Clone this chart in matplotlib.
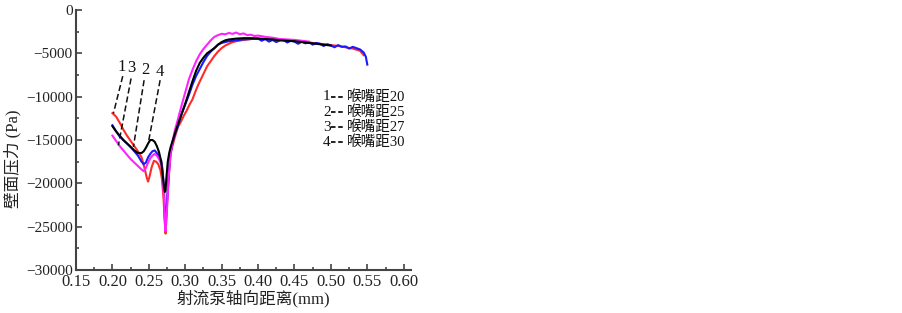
import matplotlib
matplotlib.use("Agg")
import matplotlib.pyplot as plt
from matplotlib.ticker import MultipleLocator

plt.rcParams['font.family'] = ['Liberation Serif', 'Noto Sans CJK SC']
plt.rcParams['axes.unicode_minus'] = True

# ---- data ----
x1 = [0.200,0.205,0.210,0.215,0.220,0.225,0.230,0.235,0.240,0.244,0.247,0.249,0.251,0.254,0.257,0.260,0.263,0.266,0.268,0.270,0.272,0.273,0.274,0.276,0.278,0.280,0.283,0.286,0.290,0.294,0.298,0.302,0.306,0.310,0.314,0.318,0.322,0.326,0.330,0.335,0.340,0.345,0.350,0.355,0.360,0.365,0.370,0.380,0.390,0.400,0.410,0.420,0.430,0.440,0.450,0.460,0.470,0.480,0.490,0.500,0.510,0.520,0.530,0.540,0.545]
y1 = [-11900,-12300,-13000,-13800,-14500,-15100,-15700,-16300,-17000,-18200,-19300,-19800,-19200,-18100,-17400,-17500,-17800,-18500,-19500,-21500,-24500,-25800,-24000,-21000,-18500,-16500,-15500,-14600,-13500,-12900,-12200,-11600,-10900,-10300,-9400,-8600,-7900,-7200,-6500,-5900,-5300,-4800,-4400,-4100,-3900,-3700,-3600,-3450,-3350,-3300,-3350,-3400,-3450,-3500,-3550,-3650,-3750,-3850,-3950,-4050,-4150,-4300,-4450,-4700,-5200]

x2 = [0.200,0.205,0.210,0.215,0.220,0.225,0.230,0.235,0.240,0.243,0.246,0.249,0.252,0.255,0.258,0.261,0.264,0.267,0.269,0.271,0.272,0.273,0.275,0.277,0.279,0.282,0.285,0.290,0.295,0.300,0.305,0.310,0.315,0.320,0.325,0.330,0.335,0.340,0.345,0.350,0.355,0.360,0.370,0.380,0.390,0.400,0.405,0.410,0.415,0.420,0.425,0.430,0.435,0.440,0.445,0.450,0.455,0.460,0.465,0.470,0.475,0.480,0.485,0.490,0.495,0.500,0.505,0.510,0.515,0.520,0.525,0.530,0.535,0.540,0.545,0.548,0.550]
y2 = [-13300,-14000,-14600,-15000,-15400,-15800,-16300,-16800,-17500,-17800,-17600,-17000,-16600,-16300,-16200,-16500,-16900,-17400,-18500,-21000,-24000,-25000,-22000,-19500,-17000,-15600,-14500,-13400,-12000,-10900,-9800,-8600,-7600,-6800,-6000,-5300,-4800,-4400,-4000,-3800,-3700,-3600,-3500,-3400,-3350,-3300,-3550,-3350,-3650,-3450,-3700,-3500,-3450,-3750,-3550,-3650,-3900,-3650,-3850,-3700,-4000,-3800,-3900,-4150,-3950,-4100,-4300,-4050,-4250,-4200,-4450,-4250,-4400,-4550,-4900,-5400,-6300]

x3 = [0.200,0.205,0.210,0.215,0.220,0.225,0.230,0.235,0.240,0.243,0.246,0.249,0.252,0.255,0.258,0.261,0.264,0.267,0.269,0.271,0.272,0.273,0.275,0.277,0.280,0.283,0.286,0.290,0.295,0.300,0.305,0.310,0.315,0.320,0.325,0.330,0.335,0.340,0.345,0.350,0.355,0.360,0.365,0.370,0.375,0.380,0.385,0.390,0.395,0.400,0.410,0.420,0.430,0.440,0.450,0.460,0.470]
y3 = [-14500,-15100,-15700,-16200,-16700,-17200,-17600,-18000,-18400,-18600,-18200,-17600,-17100,-16800,-16600,-16800,-17200,-17800,-19000,-22000,-24500,-25500,-23000,-19500,-16500,-15000,-13800,-12600,-11000,-9500,-8000,-6900,-5900,-5100,-4500,-4000,-3500,-3100,-2900,-2750,-2800,-2650,-2750,-2600,-2800,-2700,-2900,-2850,-3000,-2950,-3100,-3200,-3350,-3400,-3450,-3550,-3650]

x4 = [0.200,0.205,0.210,0.215,0.220,0.225,0.230,0.235,0.240,0.243,0.246,0.249,0.252,0.255,0.258,0.261,0.264,0.267,0.269,0.271,0.272,0.273,0.274,0.276,0.278,0.280,0.283,0.286,0.290,0.295,0.300,0.305,0.310,0.315,0.320,0.325,0.330,0.335,0.340,0.345,0.350,0.355,0.360,0.370,0.380,0.390,0.400,0.410,0.420,0.430,0.440,0.450,0.460,0.470,0.480,0.490,0.500]
y4 = [-13400,-14000,-14500,-15000,-15400,-15800,-16200,-16500,-16500,-16300,-15900,-15400,-15000,-15000,-15200,-15700,-16400,-17500,-19000,-20500,-21000,-20800,-19500,-17500,-16500,-15800,-15000,-14200,-13200,-12000,-10800,-9500,-8200,-7000,-6100,-5500,-5000,-4700,-4400,-4000,-3700,-3500,-3400,-3300,-3250,-3250,-3300,-3350,-3400,-3500,-3550,-3600,-3700,-3800,-3900,-4000,-4100]

series_labels = ["1", "2", "3", "4"]
legend_names = ["喉嘴距20", "喉嘴距25", "喉嘴距27", "喉嘴距30"]
colors = ["#ff2a2a", "#1a1aff", "#ff22ff", "#000000"]

xtick_vals = [0.15, 0.20, 0.25, 0.30, 0.35, 0.40, 0.45, 0.50, 0.55, 0.60]
xtick_labels = ["0.15", "0.20", "0.25", "0.30", "0.35", "0.40", "0.45", "0.50", "0.55", "0.60"]
ytick_vals = [0, -5000, -10000, -15000, -20000, -25000, -30000]
ytick_labels = ["0", "\u22125000", "\u221210000", "\u221215000", "\u221220000", "\u221225000", "\u221230000"]

# curve labels (number, text position, leader start, leader end)
callouts = [
    ("1", (0.2128, -6550), (0.2142, -7630), (0.2013, -11950)),
    ("3", (0.2265, -6750), (0.2256, -7900), (0.2082, -15610)),
    ("2", (0.2449, -6940), (0.2435, -8100), (0.2288, -15800)),
    ("4", (0.2646, -7130), (0.2655, -8100), (0.2495, -15230)),
]

fig = plt.figure(figsize=(9.03, 3.13), dpi=100)
ax = fig.add_axes([76/903, 1-270/313, (411-76)/903, (270-10)/313])

for xx, yy, c in zip([x1, x2, x3, x4], [y1, y2, y3, y4], colors):
    ax.plot(xx, yy, color=c, lw=1.5)

for lab, tp, p0, p1 in callouts:
    ax.text(tp[0], tp[1], lab, fontsize=12, ha='center', va='center', color='#111')
    ax.plot([p0[0], p1[0]], [p0[1], p1[1]], color='#111', lw=1.1, ls=(0, (4, 2)))

ax.set_xlim(0.15, 0.61)
ax.set_ylim(-30000, 0)
ax.xaxis.set_minor_locator(MultipleLocator(0.025))
ax.yaxis.set_minor_locator(MultipleLocator(2500))
ax.set_xticks(xtick_vals)
ax.set_xticklabels(xtick_labels)
ax.set_yticks(ytick_vals)
ax.set_yticklabels(ytick_labels)

for s in ['top', 'right']:
    ax.spines[s].set_visible(False)
for s in ['left', 'bottom']:
    ax.spines[s].set_linewidth(1.5)
    ax.spines[s].set_color('#444')
ax.tick_params(which='major', direction='in', length=4, width=1.2, color='#444', labelcolor='#222')
ax.tick_params(axis='x', which='major', labelsize=12, pad=3)
ax.tick_params(axis='y', which='major', labelsize=11, pad=2.5)
ax.tick_params(which='minor', direction='in', length=2, width=1.2, color='#444')

fig.text(253/903, 1-299/313, "射流泵轴向距离(mm)", ha='center', va='center', fontsize=12, color='#222')
fig.text(13/903, 1-159/313, "壁面压力 (Pa)", ha='center', va='center', rotation=90, fontsize=12, color='#222')

leg_y = [97, 112, 127, 142]
for lab, name, yy in zip(series_labels, legend_names, leg_y):
    fy = 1 - yy/313
    fig.text(323/903, fy, lab, ha='left', va='center', fontsize=11, color='#111')
    fig.add_artist(plt.Line2D([331/903, 345/903], [fy, fy], color='#111', lw=1.3, ls=(0, (2.5, 1.5))))
    fig.text(347/903, fy, name, ha='left', va='center', fontsize=10.5, color='#111')

fig.savefig("out.png", dpi=100)
